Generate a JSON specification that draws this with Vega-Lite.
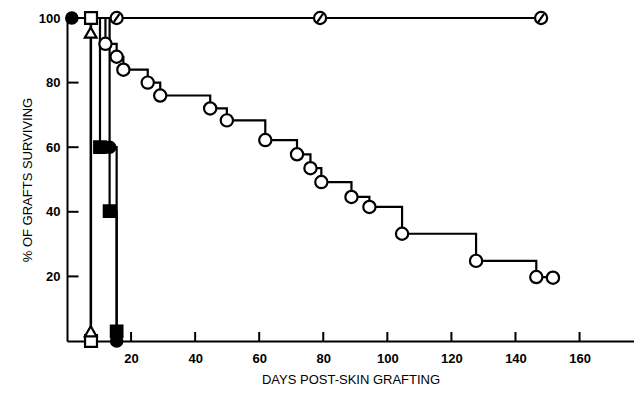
{
  "$schema": "https://vega.github.io/schema/vega-lite/v6.json",
  "autosize": {"type": "none"},
  "width": 567,
  "height": 323,
  "padding": {"left": 67, "top": 18, "right": 0, "bottom": 53},
  "background": "white",
  "config": {
    "view": {"stroke": null},
    "axis": {
      "domainColor": "black", "domainWidth": 2, "ticks": false,
      "labelFont": "Liberation Sans", "labelFontSize": 13, "labelFontWeight": "bold", "labelColor": "black",
      "titleFont": "Liberation Sans", "titleFontSize": 13, "titleFontWeight": "normal", "titleColor": "black",
      "grid": false
    }
  },
  "datasets": {
    "series": [
      {"g": "G1", "d": 1.5, "p": 100, "start": true},
      {"g": "G1", "d": 12, "p": 92, "start": false},
      {"g": "G1", "d": 15.5, "p": 88, "start": false},
      {"g": "G1", "d": 17.6, "p": 84, "start": false},
      {"g": "G1", "d": 25.2, "p": 80, "start": false},
      {"g": "G1", "d": 29.1, "p": 76, "start": false},
      {"g": "G1", "d": 44.7, "p": 72, "start": false},
      {"g": "G1", "d": 49.9, "p": 68.3, "start": false},
      {"g": "G1", "d": 61.9, "p": 62.2, "start": false},
      {"g": "G1", "d": 71.8, "p": 57.8, "start": false},
      {"g": "G1", "d": 76, "p": 53.5, "start": false},
      {"g": "G1", "d": 79.4, "p": 49.2, "start": false},
      {"g": "G1", "d": 88.8, "p": 44.6, "start": false},
      {"g": "G1", "d": 94.4, "p": 41.5, "start": false},
      {"g": "G1", "d": 104.6, "p": 33.2, "start": false},
      {"g": "G1", "d": 127.7, "p": 24.8, "start": false},
      {"g": "G1", "d": 146.5, "p": 19.8, "start": false},
      {"g": "G1", "d": 151.7, "p": 19.6, "start": false},
      {"g": "G2", "d": 1.5, "p": 100, "start": true},
      {"g": "G2", "d": 15.5, "p": 100, "start": false},
      {"g": "G2", "d": 79, "p": 100, "start": false},
      {"g": "G2", "d": 148, "p": 100, "start": false},
      {"g": "G3", "d": 1.5, "p": 100, "start": true},
      {"g": "G3", "d": 7.5, "p": 100, "start": false},
      {"g": "G3", "d": 7.5, "p": 0, "start": false},
      {"g": "G4", "d": 1.5, "p": 100, "start": true},
      {"g": "G4", "d": 7.4, "p": 95.5, "start": false},
      {"g": "G4", "d": 7.4, "p": 3, "start": false},
      {"g": "G5", "d": 1.5, "p": 100, "start": true},
      {"g": "G5", "d": 10.3, "p": 60, "start": false},
      {"g": "G5", "d": 13.3, "p": 40.2, "start": false},
      {"g": "G5", "d": 15.5, "p": 3, "start": false},
      {"g": "G6", "d": 1.5, "p": 100, "start": false},
      {"g": "G6", "d": 13.3, "p": 60, "start": false},
      {"g": "G6", "d": 15.5, "p": 0, "start": false}
    ],
    "xticks": [{"d": 20}, {"d": 40}, {"d": 60}, {"d": 80}, {"d": 100}, {"d": 120}, {"d": 140}, {"d": 160}],
    "yticks": [{"p": 20}, {"p": 40}, {"p": 60}, {"p": 80}, {"p": 100}]
  },
  "layer": [
    {
      "data": {"name": "series"},
      "mark": {"type": "line", "interpolate": "step-after", "color": "black", "strokeWidth": 2.2},
      "encoding": {
        "x": {"field": "d", "type": "quantitative", "scale": {"domain": [0, 177], "nice": false, "zero": false},
          "axis": {"values": [20, 40, 60, 80, 100, 120, 140, 160], "labelPadding": 11, "title": "DAYS POST-SKIN GRAFTING", "titlePadding": 8}},
        "y": {"field": "p", "type": "quantitative", "scale": {"domain": [0, 100], "nice": false},
          "axis": {"values": [20, 40, 60, 80, 100], "labelPadding": 7, "title": "% OF GRAFTS SURVIVING", "titlePadding": 4}},
        "detail": {"field": "g"}
      }
    },
    {
      "data": {"name": "xticks"},
      "mark": {"type": "rule", "stroke": "black", "strokeWidth": 2},
      "encoding": {
        "x": {"field": "d", "type": "quantitative"},
        "y": {"datum": 0, "type": "quantitative"},
        "y2": {"datum": 2.8}
      }
    },
    {
      "data": {"name": "yticks"},
      "mark": {"type": "rule", "stroke": "black", "strokeWidth": 2},
      "encoding": {
        "y": {"field": "p", "type": "quantitative"},
        "x": {"datum": 0, "type": "quantitative"},
        "x2": {"datum": 3.6}
      }
    },
    {
      "data": {"name": "series"},
      "transform": [{"filter": "!datum.start"}],
      "mark": {"type": "point", "filled": false, "stroke": "black", "strokeWidth": 2.2, "opacity": 1},
      "encoding": {
        "x": {"field": "d", "type": "quantitative"},
        "y": {"field": "p", "type": "quantitative"},
        "shape": {"field": "g", "type": "nominal", "legend": null,
          "scale": {"domain": ["G1", "G2", "G3", "G4", "G5", "G6"],
            "range": ["circle", "M-1,0A1,1,0,1,1,1,0A1,1,0,1,1,-1,0ZM-0.45,0.65L0.45,-0.65", "square", "triangle-up", "square", "circle"]}},
        "fill": {"field": "g", "type": "nominal", "legend": null,
          "scale": {"domain": ["G1", "G2", "G3", "G4", "G5", "G6"], "range": ["white", "white", "white", "white", "black", "black"]}},
        "size": {"field": "g", "type": "nominal", "legend": null,
          "scale": {"domain": ["G1", "G2", "G3", "G4", "G5", "G6"], "range": [150, 130, 120, 120, 140, 230]}}
      }
    }
  ]
}
